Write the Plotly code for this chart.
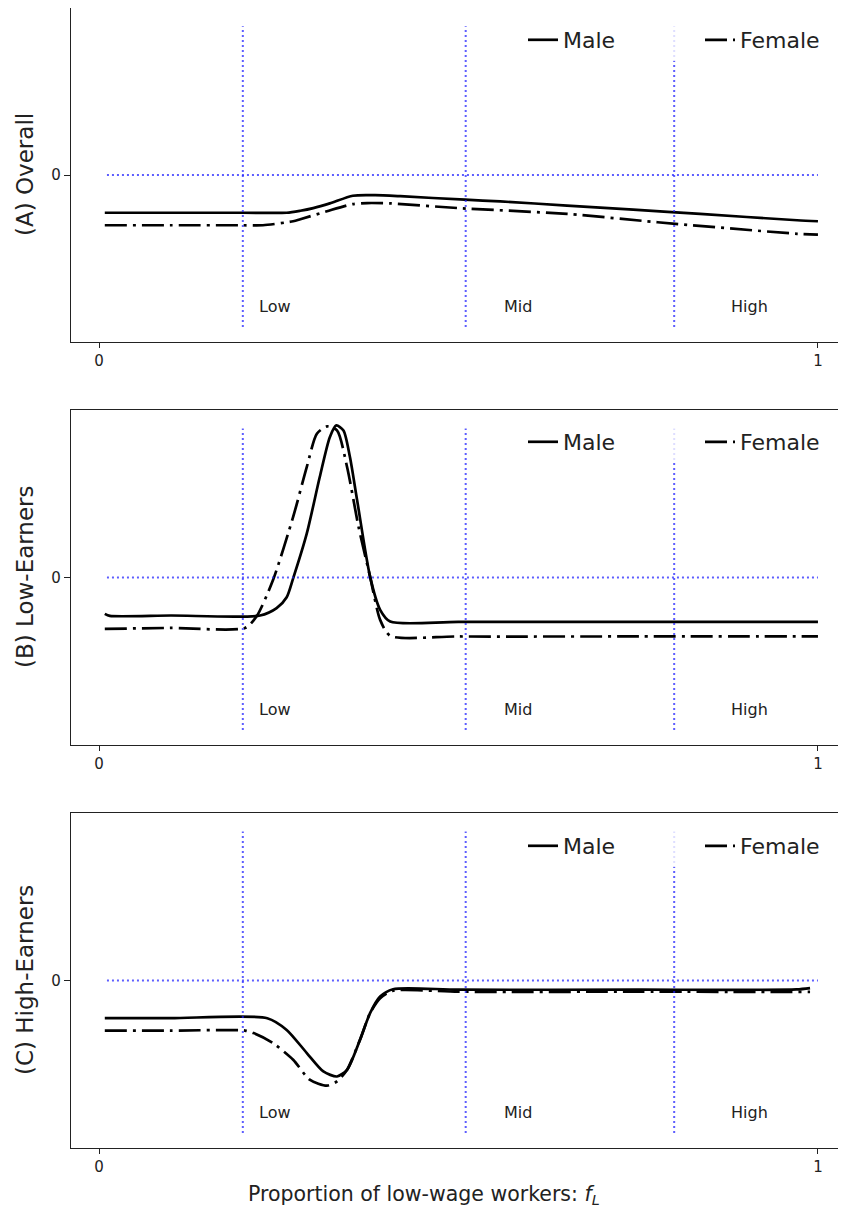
import plotly.graph_objects as go
from plotly.subplots import make_subplots

# ---------------- data ----------------
# Panel A: Overall
a_male_x = [0.008, 0.10, 0.20, 0.261, 0.280, 0.298, 0.321, 0.353, 0.384, 0.419, 0.509, 0.558, 0.651, 0.743, 0.836, 0.971, 1.0]
a_male_y = [-0.226, -0.226, -0.226, -0.226, -0.214, -0.198, -0.170, -0.124, -0.121, -0.127, -0.148, -0.158, -0.183, -0.207, -0.233, -0.271, -0.277]
a_female_x = [0.008, 0.10, 0.20, 0.228, 0.270, 0.280, 0.317, 0.353, 0.373, 0.405, 0.499, 0.651, 0.777, 0.971, 1.0]
a_female_y = [-0.301, -0.301, -0.301, -0.301, -0.277, -0.265, -0.217, -0.174, -0.168, -0.170, -0.198, -0.233, -0.283, -0.352, -0.357]

# Panel B: Low-Earners
b_male_x = [0.008, 0.015, 0.10, 0.224, 0.247, 0.261, 0.270, 0.289, 0.307, 0.321, 0.330, 0.340, 0.349, 0.359, 0.377, 0.391, 0.405, 0.50, 0.75, 1.0]
b_male_y = [-0.217, -0.229, -0.227, -0.227, -0.183, -0.118, -0.005, 0.263, 0.600, 0.838, 0.908, 0.878, 0.719, 0.461, 0.005, -0.193, -0.263, -0.265, -0.265, -0.265]
b_female_x = [0.008, 0.10, 0.203, 0.219, 0.242, 0.270, 0.289, 0.303, 0.317, 0.331, 0.345, 0.361, 0.377, 0.391, 0.405, 0.50, 0.75, 1.0]
b_female_y = [-0.307, -0.301, -0.301, -0.233, -0.015, 0.362, 0.660, 0.858, 0.902, 0.878, 0.660, 0.302, 0.005, -0.253, -0.348, -0.352, -0.352, -0.352]

# Panel C: High-Earners
c_male_x = [0.008, 0.10, 0.234, 0.261, 0.289, 0.312, 0.331, 0.345, 0.363, 0.377, 0.391, 0.409, 0.50, 0.75, 0.97, 0.989]
c_male_y = [-0.225, -0.225, -0.225, -0.295, -0.433, -0.543, -0.573, -0.533, -0.354, -0.195, -0.096, -0.052, -0.055, -0.055, -0.053, -0.045]
c_female_x = [0.008, 0.10, 0.203, 0.215, 0.242, 0.270, 0.293, 0.317, 0.331, 0.345, 0.363, 0.377, 0.391, 0.409, 0.50, 0.75, 0.989]
c_female_y = [-0.299, -0.299, -0.299, -0.314, -0.374, -0.473, -0.592, -0.628, -0.602, -0.533, -0.354, -0.195, -0.106, -0.061, -0.067, -0.067, -0.068]

panel_titles = ["(A) Overall", "(B) Low-Earners", "(C) High-Earners"]
series_names = ["Male", "Female"]
region_bounds = [0.2, 0.51, 0.8]
region_labels = ["Low", "Mid", "High"]
region_line_span = [-0.91, 0.89]
zero_line_x = [0.011, 1.0]
x_ticks = [0, 1]
y_ticks = [0]

panels = [
    (a_male_x, a_male_y, a_female_x, a_female_y),
    (b_male_x, b_male_y, b_female_x, b_female_y),
    (c_male_x, c_male_y, c_female_x, c_female_y),
]

# ---------------- figure ----------------
# the page places the figure 8px in from the top-left corner; work in page pixels
OFF = 8
W, H = 846 - OFF, 1216 - OFF
ml, mr, mt = 71 - OFF, 0, 0
mb = H - (1148 - OFF)
ph = H - mt - mb
pw = W - ml - mr
fig = make_subplots(rows=3, cols=1)

panel_px = [(7, 342), (410, 745), (813, 1148)]   # page pixels (top, bottom)
def py2paper(py):
    return min(1.0, (H - mb - (py - OFF)) / ph)
def px2paper(px):
    return (px - OFF - ml) / pw

FONT = "DejaVu Sans, Liberation Sans, sans-serif"
INK = "#222222"
BLUE = "rgba(30,30,255,0.72)"
legend_names = ["legend", "legend2", "legend3"]
legend_text_py = [40, 442, 846]

for i, (mx, my, fx, fy) in enumerate(panels):
    r = i + 1
    lg = legend_names[i]
    fig.add_trace(go.Scatter(x=mx, y=my, mode="lines", name=series_names[0],
                             line=dict(color="black", width=2.7, shape="spline", smoothing=0.7),
                             legend=lg), row=r, col=1)
    fig.add_trace(go.Scatter(x=fx, y=fy, mode="lines", name=series_names[1],
                             line=dict(color="black", width=2.7, dash="22px,6px,3px,6px",
                                       shape="spline", smoothing=0.7),
                             legend=lg), row=r, col=1)
    fig.add_trace(go.Scatter(x=zero_line_x, y=[0, 0], mode="lines", showlegend=False,
                             hoverinfo="skip",
                             line=dict(color=BLUE, width=2, dash="2px,3px")), row=r, col=1)
    for b in region_bounds:
        fig.add_trace(go.Scatter(x=[b, b], y=region_line_span, mode="lines", showlegend=False,
                                 hoverinfo="skip",
                                 line=dict(color=BLUE, width=2, dash="2px,3px")), row=r, col=1)
    sfx = "" if r == 1 else str(r)
    for lx, lab in zip([0.22, 0.561, 0.876], region_labels):
        fig.add_annotation(x=lx, y=-0.79, text=lab, showarrow=False, xanchor="left",
                           yanchor="middle", font=dict(family=FONT, size=16, color=INK),
                           xref=f"x{sfx}", yref=f"y{sfx}")

    top, bot = panel_px[i]
    xa = f"xaxis{sfx}"
    ya = f"yaxis{sfx}"
    fig.layout[xa].update(
        domain=[0, 1], range=[-0.039, 1.039], tickvals=x_ticks, ticktext=[str(t) for t in x_ticks],
        showgrid=False, zeroline=False, showline=True, mirror=True, linecolor=INK, linewidth=1.2,
        ticks="outside", ticklen=5, tickwidth=1, tickcolor=INK,
        tickfont=dict(family=FONT, size=15, color=INK), automargin=False)
    fig.layout[ya].update(
        domain=[py2paper(bot), py2paper(top)], range=[-1, 1], tickvals=y_ticks,
        ticktext=[str(t) for t in y_ticks],
        showgrid=False, zeroline=False, showline=True, mirror=False, linecolor=INK, linewidth=1.2,
        ticks="outside", ticklen=6, tickwidth=1, tickcolor=INK,
        tickfont=dict(family=FONT, size=15, color=INK), automargin=False)

    # panel (y-axis) title
    fig.add_annotation(x=px2paper(25), y=(py2paper(bot) + py2paper(top - 1)) / 2,
                       xref="paper", yref="paper", text=panel_titles[i], textangle=-90,
                       showarrow=False, xanchor="center", yanchor="middle",
                       font=dict(family=FONT, size=23, color=INK))

    fig.layout[lg] = dict(
        orientation="h", x=px2paper(523), xanchor="left",
        y=py2paper(legend_text_py[i]), yanchor="middle",
        bgcolor="rgba(255,255,255,0.8)", borderwidth=0,
        font=dict(family=FONT, size=22, color=INK),
        entrywidth=132, entrywidthmode="pixels",
        xref="paper", yref="paper")

fig.add_annotation(x=px2paper(424), y=py2paper(1195), xref="paper", yref="paper",
                   text="Proportion of low-wage workers: <i>f</i><sub><i>L</i></sub>",
                   showarrow=False, xanchor="center", yanchor="middle",
                   font=dict(family=FONT, size=20.5, color=INK))

fig.update_layout(
    width=W, height=H,
    margin=dict(l=ml, r=mr, t=mt, b=mb, autoexpand=False),
    plot_bgcolor="white", paper_bgcolor="white",
    font=dict(family=FONT, color=INK),
)

fig.write_html("out.html")
